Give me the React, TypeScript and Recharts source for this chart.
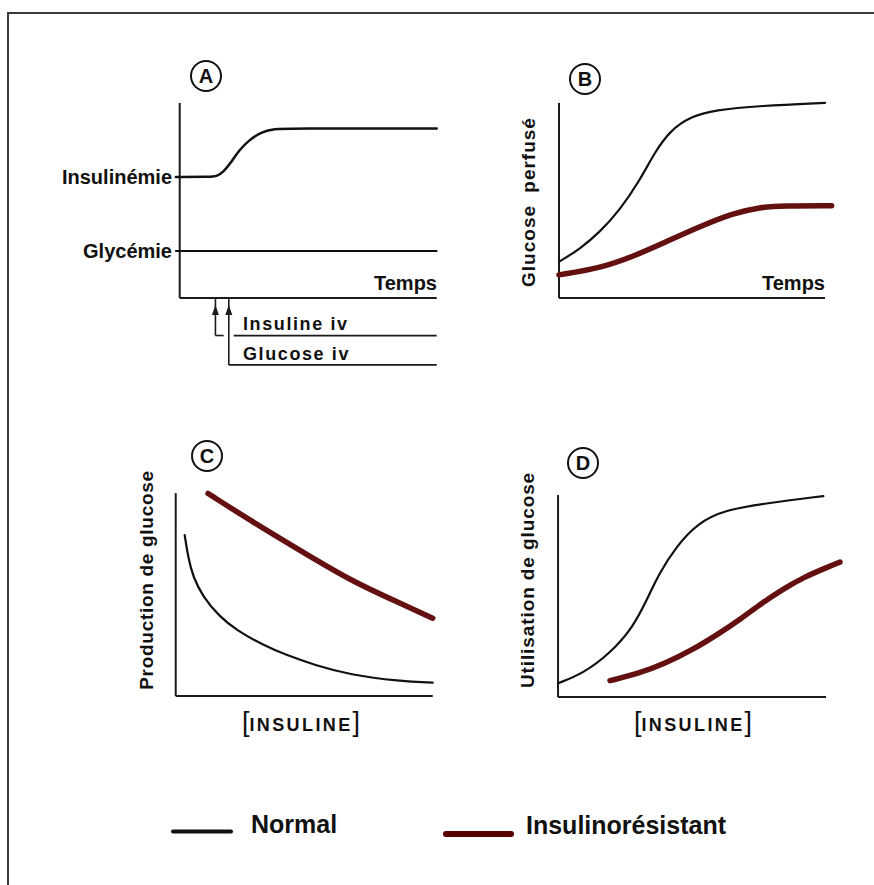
import React from "react";
import { LineChart, Line, XAxis, YAxis, ReferenceLine, ReferenceDot } from "recharts";

const FONT = '"Liberation Sans", Arial, sans-serif';
const NORMAL_COLOR = "#111111";
const RESIST_COLOR = "#641010";
const AXIS_COLOR = "#1a1a1a";

// A : insulinémie / glycémie au cours du temps (clamp)
const A_TEMPS = [-1.5, 12, 14.5, 17, 20, 23, 27, 32, 37, 42, 100];
const A_INSULINEMIE = [62, 62, 62.4, 64.5, 69.5, 75.5, 81, 85.2, 86.7, 86.9, 86.9];
const A_GLYC_TEMPS = [-1.5, 100];
const A_GLYCEMIE = [24, 24];
// flèches : insuline iv puis glucose iv
const A_ARROW_X = [13.9, 19.1];
const A_ARROW_TIP = -3.6;
const A_INSULINE_IV = -19.3;
const A_GLUCOSE_IV = -34.4;

// B : glucose perfusé
const B_TEMPS_NORMAL = [0, 7.9, 15.4, 22.9, 30.5, 36.1, 41.7, 49.2, 58.6, 75.6, 100];
const B_NORMAL = [18.5, 25.1, 33.8, 45.1, 60.5, 74.9, 85.6, 92.8, 96.4, 98.5, 100];
const B_TEMPS_RESIST = [0, 15.4, 27.9, 40.5, 53, 65.5, 75.6, 84.3, 102.5];
const B_RESIST = [11.8, 15.2, 21.2, 28.9, 36.6, 43.4, 46.5, 47.3, 47.3];

// C : production de glucose vs [insuline]
const C_INS_NORMAL = [3.5, 4.8, 6.7, 10.6, 17.1, 23.6, 34, 43.1, 54, 67.7, 87.2, 100];
const C_NORMAL = [79.3, 68.6, 58.8, 48.9, 39.1, 32.5, 25.1, 20.2, 15.3, 10.5, 7.3, 6.6];
const C_INS_RESIST = [12.6, 28.8, 48.2, 67.7, 87.2, 100];
const C_RESIST = [99.8, 86.7, 71.9, 57.1, 45.8, 38.4];

// D : utilisation de glucose vs [insuline]
const D_INS_NORMAL = [0, 9.5, 19.4, 28.1, 33.1, 37.7, 44.3, 52.2, 62.2, 77.4, 99];
const D_NORMAL = [6.8, 11.8, 21.6, 34.8, 48, 61.2, 74.9, 86.2, 92.6, 95.9, 99.5];
const D_INS_RESIST = [19.4, 30.2, 40.1, 50.1, 60.1, 68, 76, 84, 92, 100, 105.2];
const D_RESIST = [8.1, 11.7, 16.7, 23.3, 31.5, 38.5, 46.5, 53.5, 59.5, 64, 66.8];

type Series = { xs: number[]; ys: number[]; color: string; width: number };

const toPoints = (xs: number[], ys: number[]) => xs.map((x, i) => ({ x, y: ys[i] }));

function Panel({
  x0,
  y0,
  kx,
  ky,
  xDomain,
  yDomain,
  series,
  children,
}: {
  x0: number;
  y0: number;
  kx: number;
  ky: number;
  xDomain: [number, number];
  yDomain: [number, number];
  series: Series[];
  children?: React.ReactNode;
}) {
  const M = 12;
  const left = x0 + xDomain[0] * kx;
  const top = y0 - yDomain[1] * ky;
  const w = (xDomain[1] - xDomain[0]) * kx;
  const h = (yDomain[1] - yDomain[0]) * ky;
  return (
    <div style={{ position: "absolute", left: left - M, top: top - M }}>
      <LineChart
        width={w + 2 * M}
        height={h + 2 * M}
        margin={{ top: M, right: M, bottom: M, left: M }}
      >
        <XAxis type="number" dataKey="x" domain={xDomain} hide />
        <YAxis type="number" dataKey="y" domain={yDomain} hide />
        <ReferenceLine
          segment={[{ x: 0, y: 0 }, { x: 100, y: 0 }]}
          stroke={AXIS_COLOR}
          strokeWidth={2}
          ifOverflow="visible"
        />
        <ReferenceLine
          segment={[{ x: 0, y: 0 }, { x: 0, y: 100 }]}
          stroke={AXIS_COLOR}
          strokeWidth={2}
          ifOverflow="visible"
        />
        {children}
        {series.map((s, i) => (
          <Line
            key={i}
            data={toPoints(s.xs, s.ys)}
            dataKey="y"
            type="basis"
            stroke={s.color}
            strokeWidth={s.width}
            strokeLinecap="round"
            dot={false}
            activeDot={false}
            isAnimationActive={false}
          />
        ))}
      </LineChart>
    </div>
  );
}

const arrowHead = (props: any) => {
  const { cx, cy } = props;
  return (
    <polygon
      points={`${cx},${cy} ${cx - 3.5},${cy + 10} ${cx + 3.5},${cy + 10}`}
      fill={AXIS_COLOR}
    />
  );
};

function Badge({ cx, cy, letter }: { cx: number; cy: number; letter: string }) {
  return (
    <g>
      <circle cx={cx} cy={cy} r={15} fill="none" stroke="#111" strokeWidth={2} />
      <text x={cx} y={cy + 7} textAnchor="middle" fontSize={20} fontWeight="bold">
        {letter}
      </text>
    </g>
  );
}

function Insuline({ cx, y }: { cx: number; y: number }) {
  return (
    <text x={cx} y={y} textAnchor="middle">
      <tspan fontSize={27} fontWeight="normal">[</tspan>
      <tspan fontSize={18} fontWeight="bold" letterSpacing={2.4}>INSULINE</tspan>
      <tspan fontSize={27} fontWeight="normal">]</tspan>
    </text>
  );
}

export default function App() {
  return (
    <div
      style={{
        position: "absolute",
        left: 0,
        top: 0,
        width: 874,
        height: 885,
        background: "#fff",
        overflow: "hidden",
        fontFamily: FONT,
      }}
    >
      <div
        style={{
          position: "absolute",
          left: 7,
          top: 12,
          width: 900,
          height: 900,
          borderTop: "2px solid #3a3a3a",
          borderLeft: "2px solid #3a3a3a",
        }}
      />

      {/* A */}
      <Panel
        x0={180}
        y0={298}
        kx={2.57}
        ky={1.95}
        xDomain={[-3, 102]}
        yDomain={[-36, 102]}
        series={[
          { xs: A_TEMPS, ys: A_INSULINEMIE, color: NORMAL_COLOR, width: 2.5 },
          { xs: A_GLYC_TEMPS, ys: A_GLYCEMIE, color: NORMAL_COLOR, width: 2 },
        ]}
      >
        <ReferenceLine
          segment={[{ x: A_ARROW_X[0], y: A_ARROW_TIP + 3 }, { x: A_ARROW_X[0], y: A_INSULINE_IV }]}
          stroke={AXIS_COLOR}
          strokeWidth={1.6}
          ifOverflow="visible"
        />
        <ReferenceLine
          segment={[{ x: A_ARROW_X[0], y: A_INSULINE_IV }, { x: 17.1, y: A_INSULINE_IV }]}
          stroke={AXIS_COLOR}
          strokeWidth={1.6}
          ifOverflow="visible"
        />
        <ReferenceLine
          segment={[{ x: 21, y: A_INSULINE_IV }, { x: 100, y: A_INSULINE_IV }]}
          stroke={AXIS_COLOR}
          strokeWidth={1.8}
          ifOverflow="visible"
        />
        <ReferenceLine
          segment={[{ x: A_ARROW_X[1], y: A_ARROW_TIP + 3 }, { x: A_ARROW_X[1], y: A_GLUCOSE_IV }]}
          stroke={AXIS_COLOR}
          strokeWidth={1.6}
          ifOverflow="visible"
        />
        <ReferenceLine
          segment={[{ x: A_ARROW_X[1], y: A_GLUCOSE_IV }, { x: 100, y: A_GLUCOSE_IV }]}
          stroke={AXIS_COLOR}
          strokeWidth={1.8}
          ifOverflow="visible"
        />
        {A_ARROW_X.map((x) => (
          <ReferenceDot key={x} x={x} y={A_ARROW_TIP} r={0} shape={arrowHead} ifOverflow="visible" />
        ))}
      </Panel>

      {/* B */}
      <Panel
        x0={559}
        y0={298}
        kx={2.66}
        ky={1.95}
        xDomain={[-3, 105]}
        yDomain={[-3, 102]}
        series={[
          { xs: B_TEMPS_NORMAL, ys: B_NORMAL, color: NORMAL_COLOR, width: 2.2 },
          { xs: B_TEMPS_RESIST, ys: B_RESIST, color: RESIST_COLOR, width: 5.5 },
        ]}
      />

      {/* C */}
      <Panel
        x0={176}
        y0={696}
        kx={2.57}
        ky={2.03}
        xDomain={[-3, 103]}
        yDomain={[-3, 103]}
        series={[
          { xs: C_INS_NORMAL, ys: C_NORMAL, color: NORMAL_COLOR, width: 2.2 },
          { xs: C_INS_RESIST, ys: C_RESIST, color: RESIST_COLOR, width: 5.5 },
        ]}
      />

      {/* D */}
      <Panel
        x0={558}
        y0={697}
        kx={2.68}
        ky={2.02}
        xDomain={[-3, 108]}
        yDomain={[-3, 103]}
        series={[
          { xs: D_INS_NORMAL, ys: D_NORMAL, color: NORMAL_COLOR, width: 2.2 },
          { xs: D_INS_RESIST, ys: D_RESIST, color: RESIST_COLOR, width: 5.5 },
        ]}
      />

      <svg
        width={874}
        height={885}
        style={{ position: "absolute", left: 0, top: 0, pointerEvents: "none" }}
        fontFamily={FONT}
        fill="#111"
      >
        <Badge cx={206} cy={76} letter="A" />
        <Badge cx={585} cy={79} letter="B" />
        <Badge cx={207} cy={456} letter="C" />
        <Badge cx={583} cy={463} letter="D" />

        <text x={172} y={184} textAnchor="end" fontSize={20} fontWeight="bold">
          Insulinémie
        </text>
        <text x={172} y={258} textAnchor="end" fontSize={20} fontWeight="bold">
          Glycémie
        </text>
        <text x={437} y={290} textAnchor="end" fontSize={20} fontWeight="bold">
          Temps
        </text>
        <text x={243} y={330} fontSize={18} fontWeight="bold" letterSpacing={1.6}>
          Insuline iv
        </text>
        <text x={243} y={360} fontSize={18} fontWeight="bold" letterSpacing={1.6}>
          Glucose iv
        </text>

        <text x={825} y={290} textAnchor="end" fontSize={20} fontWeight="bold">
          Temps
        </text>
        <text
          x={528}
          y={202}
          textAnchor="middle"
          dominantBaseline="central"
          fontSize={19}
          fontWeight="bold"
          letterSpacing={1}
          wordSpacing={6}
          transform="rotate(-90 528 202)"
        >
          Glucose perfusé
        </text>

        <text
          x={146}
          y={580}
          textAnchor="middle"
          dominantBaseline="central"
          fontSize={19}
          fontWeight="bold"
          letterSpacing={0.7}
          transform="rotate(-90 146 580)"
        >
          Production de glucose
        </text>
        <Insuline cx={301} y={731} />

        <text
          x={527}
          y={580}
          textAnchor="middle"
          dominantBaseline="central"
          fontSize={19}
          fontWeight="bold"
          letterSpacing={0.9}
          transform="rotate(-90 527 580)"
        >
          Utilisation de glucose
        </text>
        <Insuline cx={693} y={731} />

        {/* légende */}
        <line x1={173} y1={831.5} x2={231} y2={831.5} stroke={NORMAL_COLOR} strokeWidth={4} strokeLinecap="round" />
        <text x={251} y={833} fontSize={25} fontWeight="bold">
          Normal
        </text>
        <line x1={446} y1={834} x2={511} y2={834} stroke="#560000" strokeWidth={6} strokeLinecap="round" />
        <text x={526} y={834} fontSize={25} fontWeight="bold">
          Insulinorésistant
        </text>
      </svg>
    </div>
  );
}
